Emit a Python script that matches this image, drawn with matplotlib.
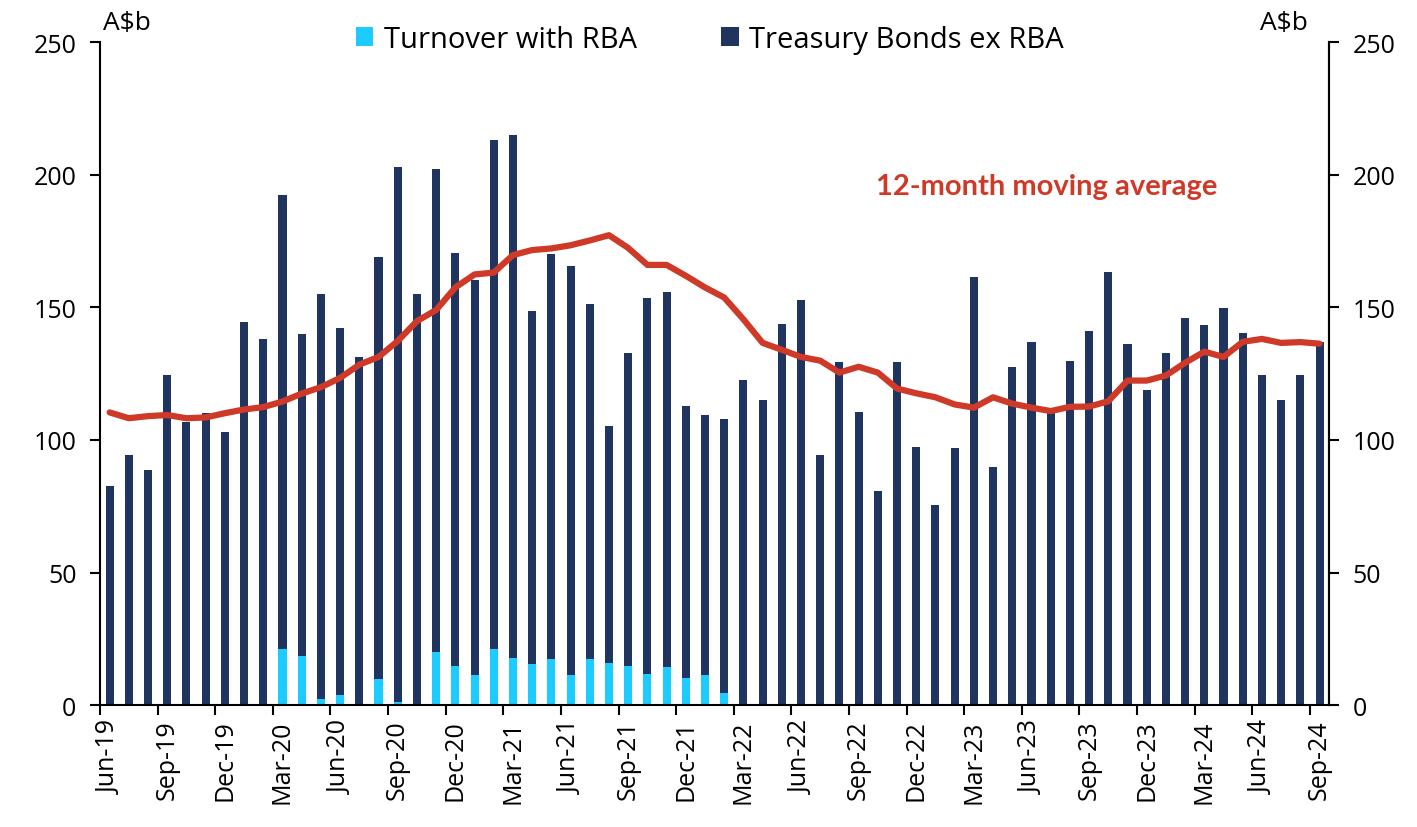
import numpy as np
import pandas as pd
import matplotlib
matplotlib.use("Agg")
import matplotlib.pyplot as plt

months = pd.date_range("2019-06-01", "2024-09-01", freq="MS")
month_labels = [d.strftime("%b-%y") for d in months]

# total turnover in Treasury Bonds each month, A$b
total_turnover = [
    82.5, 94.3, 88.8, 124.6, 106.7, 110.1, 103.0, 144.5, 137.9, 192.5,
    139.9, 155.2, 142.4, 131.2, 169.1, 202.8, 155.2, 202.3, 170.6, 160.4,
    213.1, 215.0, 148.5, 170.1, 165.5, 151.2, 105.2, 132.8, 153.7, 155.7,
    112.8, 109.3, 107.8, 122.5, 114.9, 143.6, 152.7, 94.3, 129.3, 110.7,
    80.6, 129.3, 97.5, 75.5, 97.0, 161.3, 89.9, 127.6, 136.9, 110.4,
    129.7, 141.0, 163.4, 136.3, 119.0, 132.8, 146.1, 143.4, 149.7, 140.3,
    124.6, 114.9, 124.6, 136.9,
]

# turnover with the RBA (zero outside the bond purchase period)
rba_turnover = [
    0, 0, 0, 0, 0, 0, 0, 0, 0, 21.2,
    18.7, 2.2, 3.7, 0, 10.0, 1.3, 0, 20.1, 14.9, 11.5,
    21.2, 17.9, 15.7, 17.6, 11.5, 17.6, 16.1, 14.9, 11.9, 14.6,
    10.4, 11.5, 4.5, 0, 0, 0, 0, 0, 0, 0,
    0, 0, 0, 0, 0, 0, 0, 0, 0, 0,
    0, 0, 0, 0, 0, 0, 0, 0, 0, 0,
    0, 0, 0, 0,
]

moving_avg = [
    110.4, 108.2, 109.0, 109.4, 108.2, 108.5, 110.1, 111.5, 112.4, 114.5,
    117.5, 119.9, 123.4, 128.4, 131.3, 137.3, 144.8, 149.0, 157.5, 162.4,
    163.1, 169.7, 171.6, 172.2, 173.4, 175.2, 177.2, 172.4, 166.0, 166.0,
    161.9, 157.5, 153.7, 145.5, 136.6, 134.0, 131.3, 129.9, 125.4, 127.6,
    125.4, 119.4, 117.6, 116.1, 113.4, 112.2, 116.1, 113.7, 112.2, 110.9,
    112.5, 112.6, 114.6, 122.4, 122.4, 124.3, 129.1, 133.3, 131.3, 137.0,
    138.1, 136.6, 136.9, 136.3,
]

navy = "#1F3560"
light_blue = "#1CCBFF"
red = "#CF3A28"

plt.rcParams["font.family"] = ["Open Sans", "DejaVu Sans"]

rba = np.array(rba_turnover)
ex_rba = np.array(total_turnover) - rba
x = np.arange(len(months))

fig = plt.figure(figsize=(14.17, 8.28), dpi=100)
ax = fig.add_axes([0.0706, 0.147, 0.8674, 0.801])

ax.bar(x, rba, width=0.42, color=light_blue, label="Turnover with RBA", zorder=2)
ax.bar(x, ex_rba, width=0.42, bottom=rba, color=navy,
       label="Treasury Bonds ex RBA", zorder=2)
ax.plot(x, moving_avg, color=red, lw=4.5, solid_joinstyle="round",
        solid_capstyle="round", zorder=3)

ax.set_xlim(-0.5, len(months) - 0.5)
ax.set_ylim(0, 250)
ax.set_yticks(np.arange(0, 251, 50))
ax.tick_params(axis="y", labelsize=18, length=7, width=1.5, direction="out", pad=10)

# Excel-style: ticks between categories, labels every 3 months
ax.set_xticks(x[::3] - 0.5)
ax.set_xticklabels([])
ax.set_xticks(x[::3], minor=True)
ax.set_xticklabels(month_labels[::3], minor=True, rotation=90, fontsize=18)
ax.tick_params(axis="x", which="major", length=7, width=1.5)
ax.tick_params(axis="x", which="minor", length=0, pad=10)

for side in ["left", "bottom", "right"]:
    ax.spines[side].set_linewidth(1.5)
ax.spines["top"].set_visible(False)

ax2 = ax.twinx()
ax2.set_ylim(0, 250)
ax2.set_yticks(np.arange(0, 251, 50))
ax2.tick_params(axis="y", labelsize=18, length=7, width=1.5, direction="out", pad=10)
ax2.spines["right"].set_linewidth(1.5)
ax2.spines["top"].set_visible(False)
ax2.spines["left"].set_visible(False)
ax2.spines["bottom"].set_visible(False)

fig.text(0.073, 0.972, "A$b", fontsize=19, va="center", ha="left")
fig.text(0.923, 0.972, "A$b", fontsize=19, va="center", ha="right")

ax.legend(loc="center", bbox_to_anchor=(0.496, 1.0045), ncol=2, frameon=False,
          fontsize=21, handlelength=0.6, handleheight=0.6, handletextpad=0.35,
          columnspacing=2.9)

ax.text(39.9, 195.7, "12-month moving average", color=red, fontsize=21,
        fontweight="bold", family=["Lato", "DejaVu Sans"], va="center")

plt.savefig("out.png", dpi=100)
plt.close()
